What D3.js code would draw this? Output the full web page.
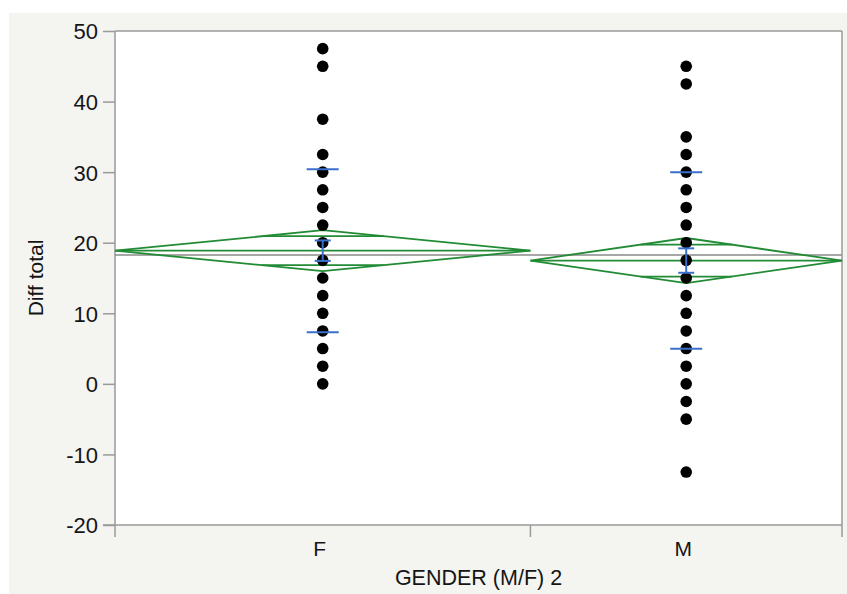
<!DOCTYPE html>
<html>
<head>
<meta charset="utf-8">
<script src="https://cdn.jsdelivr.net/npm/d3@7"></script>
<style>
  html, body { margin: 0; padding: 0; background: #ffffff; }
  svg { display: block; }
  text { font-family: "Liberation Sans", Arial, Helvetica, sans-serif; fill: #151515; }
</style>
</head>
<body>
<svg id="chart" width="847" height="594"></svg>
<script>
// Groups and group sizes (the x axis is split in proportion to group size)
const groups = ["F", "M"];
const groupN = [68, 51];

// Observed Diff total values for each group (distinct plotted values)
const valuesF = [47.5, 45, 37.5, 32.5, 30, 27.5, 25, 22.5, 20, 17.5, 15, 12.5, 10, 7.5, 5, 2.5, 0];
const valuesM = [45, 42.5, 35, 32.5, 30, 27.5, 25, 22.5, 20, 17.5, 15, 12.5, 10, 7.5, 5, 2.5, 0, -2.5, -5, -12.5];

// Group summaries: means, 95% CI half-widths, standard deviations, standard errors
const groupMean = [18.87, 17.47];
const groupCI = [2.9, 3.2];
const groupSD = [11.55, 12.5];
const groupSE = [1.45, 1.73];

// Y axis ticks
const yTicks = [-20, -10, 0, 10, 20, 30, 40, 50];

const svg = d3.select("#chart");
const W = 847, H = 594;
const plot = { left: 115, right: 842, top: 31, bottom: 525 };

// panel background
svg.append("rect").attr("x", 9).attr("y", 13).attr("width", W - 9).attr("height", H - 13)
  .attr("fill", "#f4f4f1");
svg.append("rect").attr("x", plot.left).attr("y", plot.top)
  .attr("width", plot.right - plot.left).attr("height", plot.bottom - plot.top)
  .attr("fill", "#ffffff");

const y = d3.scaleLinear().domain([-20, 50]).range([plot.bottom, plot.top]);
const totalN = d3.sum(groupN);
const cum = [0]; groupN.forEach((n, i) => cum.push(cum[i] + n));
const x = d3.scaleLinear().domain([0, totalN]).range([plot.left, plot.right]);

const seg = groups.map((g, i) => ({
  g, i,
  x0: x(cum[i]), x1: x(cum[i + 1]), cx: x((cum[i] + cum[i + 1]) / 2),
  mean: groupMean[i], ci: groupCI[i], sd: groupSD[i], se: groupSE[i],
  vals: i === 0 ? valuesF : valuesM
}));

const grandMean = d3.sum(groupMean.map((m, i) => m * groupN[i])) / totalN;

// Y axis (plain hyphen for negative numbers)
const yAxis = d3.axisLeft(y).tickValues(yTicks).tickSize(12).tickPadding(5)
  .tickFormat(d => String(d));
const ya = svg.append("g").attr("transform", `translate(${plot.left},0)`).call(yAxis);
ya.attr("font-size", null).attr("font-family", null);
ya.select(".domain").remove();
ya.selectAll("line").attr("stroke", "#9a9a9a").attr("stroke-width", 1.5);
ya.selectAll("text").style("font-size", "22px").attr("fill", "#151515").attr("dy", "0.36em");

// frame lines
const axisColor = "#9a9a9a";
svg.append("line").attr("x1", plot.left).attr("x2", plot.left).attr("y1", plot.top).attr("y2", plot.bottom + 12)
  .attr("stroke", axisColor).attr("stroke-width", 1.5);
svg.append("line").attr("x1", plot.left - 12).attr("x2", plot.right).attr("y1", plot.bottom).attr("y2", plot.bottom)
  .attr("stroke", axisColor).attr("stroke-width", 1.5);
svg.append("line").attr("x1", plot.left).attr("x2", plot.right).attr("y1", plot.top).attr("y2", plot.top)
  .attr("stroke", axisColor).attr("stroke-width", 1.5);
svg.append("line").attr("x1", plot.right).attr("x2", plot.right).attr("y1", plot.top).attr("y2", plot.bottom + 12)
  .attr("stroke", axisColor).attr("stroke-width", 1.5);

// group boundary ticks on the x axis
svg.selectAll(".sep").data(cum.slice(1, -1)).enter().append("line")
  .attr("x1", d => x(d)).attr("x2", d => x(d))
  .attr("y1", plot.bottom).attr("y2", plot.bottom + 12)
  .attr("stroke", axisColor).attr("stroke-width", 1.5);

// category labels
svg.selectAll(".cat").data(seg).enter().append("text")
  .attr("x", d => d.cx - 3).attr("y", plot.bottom + 31)
  .attr("text-anchor", "middle").style("font-size", "21px").text(d => d.g);

// axis titles
svg.append("text").attr("x", (plot.left + plot.right) / 2).attr("y", 585)
  .attr("text-anchor", "middle").style("font-size", "21.5px").text("GENDER (M/F) 2");
svg.append("text").attr("transform", `translate(43,${(plot.top + plot.bottom) / 2}) rotate(-90)`)
  .attr("text-anchor", "middle").style("font-size", "21px").text("Diff total");

// grand mean line
svg.append("line").attr("x1", plot.left).attr("x2", plot.right)
  .attr("y1", y(grandMean)).attr("y2", y(grandMean))
  .attr("stroke", "#8a8a8a").attr("stroke-width", 1.5);

// means diamonds
const green = "#228b35";
const dg = svg.append("g").attr("fill", "none").attr("stroke", green).attr("stroke-width", 1.8);
seg.forEach(s => {
  dg.append("path").attr("d",
    `M${s.x0},${y(s.mean)}L${s.cx},${y(s.mean + s.ci)}L${s.x1},${y(s.mean)}L${s.cx},${y(s.mean - s.ci)}Z`);
  dg.append("line").attr("x1", s.x0).attr("x2", s.x1).attr("y1", y(s.mean)).attr("y2", y(s.mean));
  const k = 1 - Math.SQRT1_2;
  const hw = (s.x1 - s.x0) / 2 * k;
  [s.mean + s.ci * Math.SQRT1_2, s.mean - s.ci * Math.SQRT1_2].forEach(v => {
    dg.append("line").attr("x1", s.cx - hw).attr("x2", s.cx + hw).attr("y1", y(v)).attr("y2", y(v));
  });
});

// points
seg.forEach(s => {
  svg.append("g").selectAll("circle").data(s.vals).enter().append("circle")
    .attr("cx", s.cx).attr("cy", d => y(d)).attr("r", 5.8).attr("fill", "#000");
});

// std dev lines and std error bars
const blue = "#3b6fcc";
const bg = svg.append("g").attr("stroke", blue).attr("stroke-width", 2);
seg.forEach(s => {
  [s.mean + s.sd, s.mean - s.sd].forEach(v => {
    bg.append("line").attr("x1", s.cx - 16).attr("x2", s.cx + 16).attr("y1", y(v)).attr("y2", y(v));
  });
  bg.append("line").attr("x1", s.cx).attr("x2", s.cx).attr("y1", y(s.mean + s.se)).attr("y2", y(s.mean - s.se));
  [s.mean + s.se, s.mean - s.se].forEach(v => {
    bg.append("line").attr("x1", s.cx - 8).attr("x2", s.cx + 8).attr("y1", y(v)).attr("y2", y(v));
  });
});
</script>
</body>
</html>
